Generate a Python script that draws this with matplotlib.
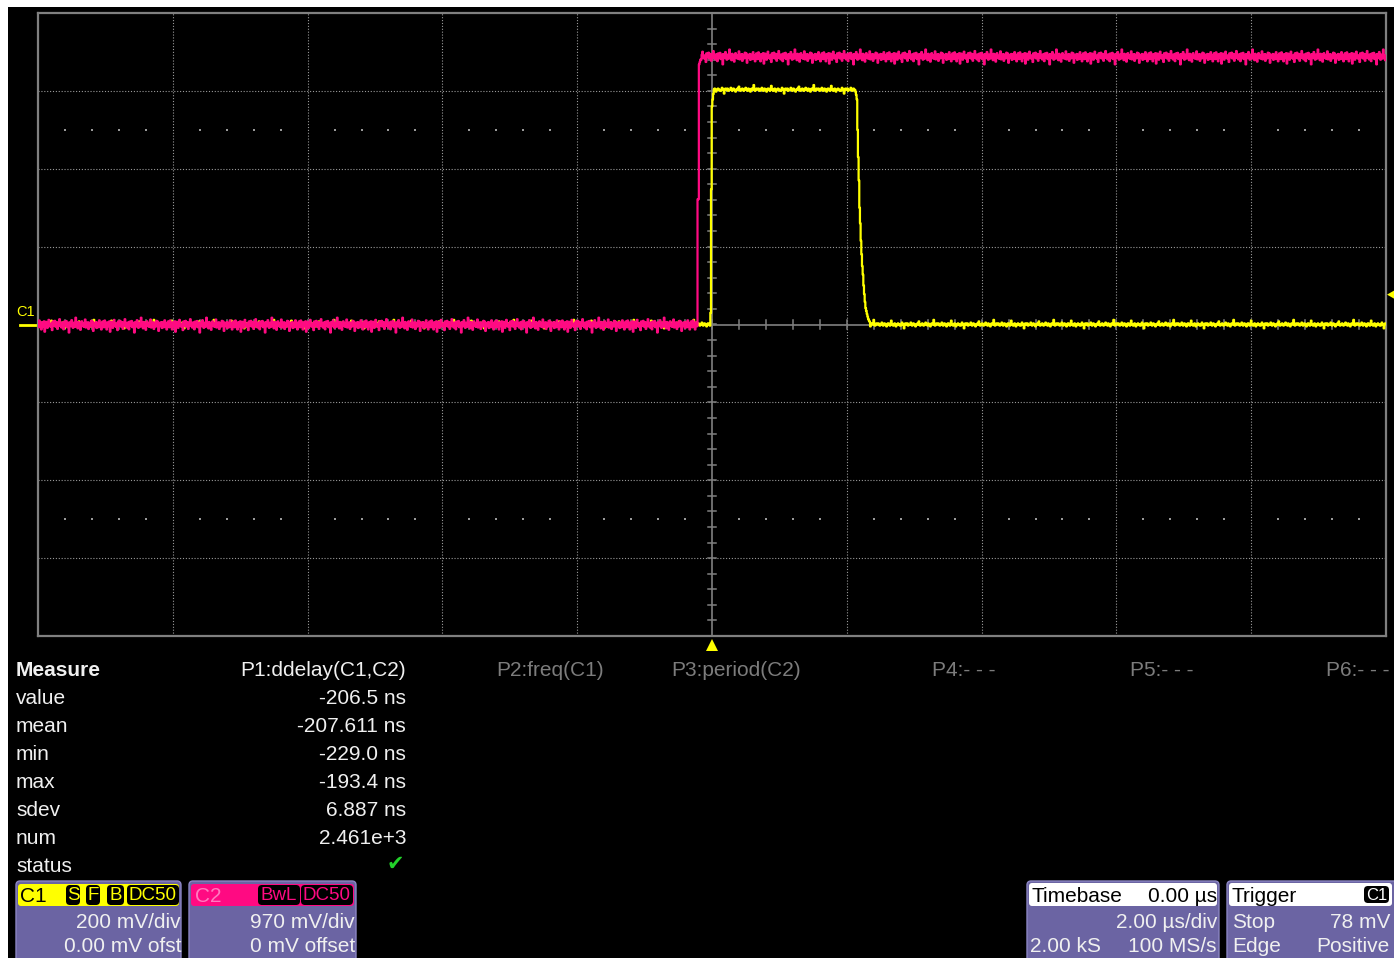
import numpy as np
import matplotlib
matplotlib.use("Agg")
import matplotlib.pyplot as plt
from matplotlib.patches import FancyBboxPatch, Rectangle, Polygon

plt.rcParams['font.family'] = ['Liberation Sans', 'DejaVu Sans']

W, H = 1394, 958

# scope settings
T_DIV_NS = 2000
C1_MV_DIV = 200
C2_MV_DIV = 970
SAMPLE_NS = 10
TRIG_LEVEL_MV = 78

# C1 (yellow) pulse
C1_HIGH_MV = 603
C1_RISE_NS = 0
C1_FALL_NS = 2130
C1_EDGE_NS = [-20, -10, 0, 10, 20,
              2130, 2140, 2150, 2160, 2170, 2180, 2190, 2200, 2210, 2220,
              2230, 2240, 2250, 2260, 2270, 2280, 2290, 2300, 2310, 2320, 2330, 2340]
C1_EDGE_MV = [30, 347, 560, 578, 592,
              598, 590, 578, 500, 430, 370, 300, 260, 215, 180,
              150, 128, 100, 78, 58, 42, 35, 27, 20, 14, 10, 7]

# C2 (pink) step
C2_HIGH_MV = 3340
C2_RISE_NS = -210
C2_EDGE_NS = [-210, -200, -190, -180, -170]
C2_EDGE_MV = [1560, 1560, 3240, 3270, 3300]

# hand-read noise pattern (mV)
PINK_NOISE_MV = [18, -35, 50, -15, 8, -62, 28, 0, -22, 40, -90, 12, 34, -8, -42, 20, 58, -18, 5, -30,
                 14, -70, 38, 9, -12, 46, -26, 0, 30, -55, 16, -9, 66, -20, 6, -38, 25, -3, -60, 36,
                 12, -16, 44, -34, 0, 20, -100, 28, 10, -22, 54, -12, -42, 22, 3, -28, 85, -6, 14, -48,
                 32, -18, 9, -66, 25, 40, -14, 0, -30, 16, 62, -38, 11, -9, 28, -56, 20, 3, -25, 46,
                 -12, 36, -80, 14, 0, -20, 30, -44, 22, 6, -34, 52, -9, 16, -62, 11, 38]
YELLOW_NOISE_MV = [0, 3, 0, -3, 0, 0, 5, 0, -3, 0, 3, 0, 0, -5, 0, 3, 3, 0, -3, 0, 10, 0, 0, -3, 0,
                   3, 0, -5, 0, 0, 3, 0, 0, -3, -3, 0, 5, 0, 0, -10, 0, 3, 0, 0, 3, -3, 0, 0, 0, 5,
                   0, -3, 0, 3, 0, 0, -5, 0, 0, 3, 0, 8, 0, -3, 0, 0, 3, 0, -3, 0, 0, 5, 0, 0, -3,
                   3, 0, 0, -5, 0, 3, 0, 0, 12, 0, -3, 0, 3, 0]

# measurement panel
PARAM_HEADERS = ["P1:ddelay(C1,C2)", "P2:freq(C1)", "P3:period(C2)", "P4:- - -", "P5:- - -", "P6:- - -"]
MEASURE_ROWS = ["value", "mean", "min", "max", "sdev", "num", "status"]
P1_VALUES = ["-206.5 ns", "-207.611 ns", "-229.0 ns", "-193.4 ns", "6.887 ns", "2.461e+3"]

# channel / timebase / trigger boxes
C1_INFO = ["200 mV/div", "0.00 mV ofst"]
C2_INFO = ["970 mV/div", "0 mV offset"]
TIMEBASE = ["0.00 µs", "2.00 µs/div", "2.00 kS", "100 MS/s"]
TRIGGER = ["C1", "Stop", "78 mV", "Edge", "Positive"]

YELLOW = "#ffff00"
PINK = "#ff0a82"
GRID = "#9a9a9a"
AXC = "#808080"
PURPLE = "#6b64a3"
TXT = "#f0f0f0"

# build traces
t = np.arange(-10000, 10000, SAMPLE_NS)
c1 = np.where((t >= C1_RISE_NS) & (t < C1_FALL_NS), C1_HIGH_MV, 0) + np.resize(YELLOW_NOISE_MV, t.size)
for et, ev in zip(C1_EDGE_NS, C1_EDGE_MV):
    c1[t == et] = ev
c2 = np.where(t >= C2_RISE_NS, C2_HIGH_MV, 0) + np.resize(PINK_NOISE_MV, t.size)
for et, ev in zip(C2_EDGE_NS, C2_EDGE_MV):
    c2[t == et] = ev

fig = plt.figure(figsize=(W / 100, H / 100), dpi=100, facecolor="black")

# background / panel layer in pixel coords
bg = fig.add_axes([0, 0, 1, 1])
bg.set_xlim(0, W); bg.set_ylim(H, 0); bg.axis("off")
bg.add_patch(Rectangle((0, 0), W, 7, fc="white", ec="none"))
bg.add_patch(Rectangle((0, 0), 8, H, fc="white", ec="none"))

# scope grid
x0, x1, y0, y1 = 38, 1386, 13, 636
ax = fig.add_axes([x0 / W, 1 - y1 / H, (x1 - x0) / W, (y1 - y0) / H])
ax.set_facecolor("black")
ax.set_xlim(-5 * T_DIV_NS, 5 * T_DIV_NS)
ax.set_ylim(-4, 4)
ax.set_xticks([]); ax.set_yticks([])
for s in ax.spines.values():
    s.set_color(AXC); s.set_linewidth(1.6)

for k in range(-4, 5):
    if k != 0:
        ax.axvline(k * T_DIV_NS, color=GRID, lw=0.8, ls=(0, (1, 1.6)), zorder=1)
for k in range(-3, 4):
    if k != 0:
        ax.axhline(k, color=GRID, lw=0.8, ls=(0, (1, 1.6)), zorder=1)
ax.axvline(0, color=AXC, lw=1.2, zorder=1)
ax.axhline(0, color=AXC, lw=1.2, zorder=1)

# minor ticks on center cross
mx = np.arange(-10000, 10001, 400)
for x in mx:
    ax.plot([x, x], [-0.055, 0.055], color=AXC, lw=1.1, zorder=1)
my = np.arange(-4, 4.01, 0.2)
for y in my:
    ax.plot([-60, 60], [y, y], color=AXC, lw=1.1, zorder=1)
# dotted minor rows
dots_x = [x for x in mx if x % 2000 != 0]
for y in (2.5, -2.5):
    ax.scatter(dots_x, [y] * len(dots_x), s=1.2, color=GRID, marker="s", lw=0, zorder=1)

ax.plot(t, c1 / C1_MV_DIV, color=YELLOW, lw=1.6, drawstyle="steps-mid", zorder=3)
ax.plot(t, c2 / C2_MV_DIV, color=PINK, lw=1.6, drawstyle="steps-mid", zorder=4)

# channel / trigger markers
bg.text(16, 312, "C1", color=YELLOW, fontsize=10.5, va="center", ha="left")
bg.plot([20, 38], [325, 325], color=YELLOW, lw=2)
trig_y = 325 - TRIG_LEVEL_MV / C1_MV_DIV * 77.9
bg.add_patch(Polygon([[1387, trig_y], [1394, trig_y - 4], [1394, trig_y + 4]], closed=True, fc=YELLOW, ec="none"))
bg.add_patch(Polygon([[712, 639], [706, 651], [718, 651]], closed=True, fc=YELLOW, ec="none"))

# measurement table
FS = 15
bg.text(16, 670, "Measure", color=TXT, fontsize=FS, fontweight="bold", va="center")
col_right = [406, 604, 801, 996, 1193, 1390]
for i, (hdr, xr) in enumerate(zip(PARAM_HEADERS, col_right)):
    bg.text(xr, 670, hdr, color=TXT if i == 0 else "#7c7c7c", fontsize=FS, va="center", ha="right")
for i, name in enumerate(MEASURE_ROWS):
    bg.text(16, 698 + 28 * i, name, color=TXT, fontsize=FS, va="center")
for i, v in enumerate(P1_VALUES):
    bg.text(406, 698 + 28 * i, v, color=TXT, fontsize=FS, va="center", ha="right")
bg.text(395, 864, "✔", color="#22d22a", fontsize=15, va="center", ha="center", family="DejaVu Sans")


def rbox(x, y, w, h, fc, ec="none", r=4, z=2):
    bg.add_patch(FancyBboxPatch((x, y), w, h, boxstyle=f"round,pad=0,rounding_size={r}",
                                fc=fc, ec=ec, lw=1, zorder=z))


# C1 box
rbox(16, 881, 165, 82, PURPLE, ec="#8c86c4")
rbox(18, 884, 161, 22, YELLOW, r=3, z=3)
bg.text(20, 896, "C1", color="black", fontsize=FS, va="center", zorder=5)
for lab, bx, bw in [("S", 66, 14), ("F", 86, 14), ("B", 107, 17), ("DC50", 127, 52)]:
    rbox(bx, 885, bw, 20, "black", r=4, z=4)
    bg.text(bx + bw / 2, 896, lab, color=YELLOW, fontsize=13.5, va="center", ha="center", zorder=5)
bg.text(181, 922, C1_INFO[0], color=TXT, fontsize=FS, va="center", ha="right")
bg.text(181, 947, C1_INFO[1], color=TXT, fontsize=FS, va="center", ha="right")

# C2 box
rbox(189, 881, 167, 82, PURPLE, ec="#8c86c4")
rbox(191, 884, 163, 22, PINK, r=3, z=3)
bg.text(195, 896, "C2", color="#ff7ac0", fontsize=FS, va="center", zorder=5)
for lab, bx, bw in [("BwL", 258, 42), ("DC50", 301, 52)]:
    rbox(bx, 885, bw, 20, "black", r=4, z=4)
    bg.text(bx + bw / 2, 896, lab, color=PINK, fontsize=13.5, va="center", ha="center", zorder=5)
bg.text(355, 922, C2_INFO[0], color=TXT, fontsize=FS, va="center", ha="right")
bg.text(355, 947, C2_INFO[1], color=TXT, fontsize=FS, va="center", ha="right")

# Timebase box
rbox(1027, 881, 192, 82, PURPLE, ec="#8c86c4")
rbox(1029, 883, 188, 23, "white", r=3, z=3)
bg.text(1031, 896, "Timebase", color="black", fontsize=FS, va="center", zorder=5)
bg.text(1217, 896, TIMEBASE[0], color="black", fontsize=FS, va="center", ha="right", zorder=5)
bg.text(1217, 922, TIMEBASE[1], color=TXT, fontsize=FS, va="center", ha="right")
bg.text(1030, 947, TIMEBASE[2], color=TXT, fontsize=FS, va="center", ha="left")
bg.text(1216, 947, TIMEBASE[3], color=TXT, fontsize=FS, va="center", ha="right")

# Trigger box
rbox(1227, 881, 172, 82, PURPLE, ec="#8c86c4")
rbox(1229, 883, 163, 23, "white", r=3, z=3)
bg.text(1232, 896, "Trigger", color="black", fontsize=FS, va="center", zorder=5)
rbox(1364, 886, 25, 17, "black", r=4, z=4)
bg.text(1376.5, 895, TRIGGER[0], color="white", fontsize=12, va="center", ha="center", zorder=5)
bg.text(1232, 922, TRIGGER[1], color=TXT, fontsize=FS, va="center")
bg.text(1390, 922, TRIGGER[2], color=TXT, fontsize=FS, va="center", ha="right")
bg.text(1232, 947, TRIGGER[3], color=TXT, fontsize=FS, va="center")
bg.text(1390, 947, TRIGGER[4], color=TXT, fontsize=FS, va="center", ha="right")

fig.savefig("out.png", dpi=100, facecolor="black")
